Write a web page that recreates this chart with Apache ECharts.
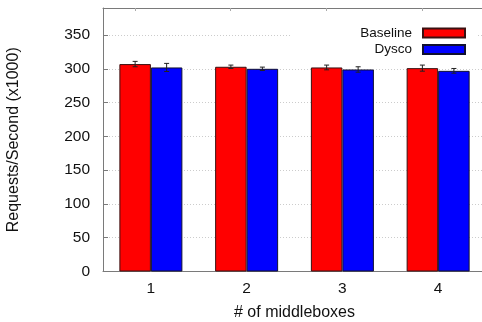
<!DOCTYPE html>
<html>
<head>
<meta charset="utf-8">
<script src="https://cdn.jsdelivr.net/npm/echarts@6/dist/echarts.min.js"></script>
<style>
  html, body { margin: 0; padding: 0; background: #fff; }
  #chart { width: 482px; height: 322px; }
</style>
</head>
<body>
<div id="chart"></div>
<script>
  // values (x1000 requests/second)
  var categories = ['1', '2', '3', '4'];
  var baseline = [307, 303, 302, 301];
  var dysco = [302, 300, 299, 297];
  var baselineErr = [4, 2.5, 3.5, 4.5];
  var dyscoErr = [6, 2.5, 4, 3.5];
  var topTicks = [1 / 3, 4 / 3, 7 / 3, 10 / 3];

  var barW = 31.5;
  var axisGray = '#7a7a7a';

  function errData(vals, errs) {
    return vals.map(function (v, i) { return [i, v - errs[i], v + errs[i]]; });
  }

  function errSeries(name, vals, errs, offset) {
    return {
      type: 'custom',
      name: name + '-err',
      z: 5,
      silent: true,
      data: errData(vals, errs),
      renderItem: function (params, api) {
        var lo = api.coord([api.value(0), api.value(1)]);
        var hi = api.coord([api.value(0), api.value(2)]);
        var x = lo[0] + offset;
        var c = 2.5;
        var st = { stroke: '#222', lineWidth: 1 };
        return {
          type: 'group',
          children: [
            { type: 'line', shape: { x1: x, y1: lo[1], x2: x, y2: hi[1] }, style: st },
            { type: 'line', shape: { x1: x - c, y1: lo[1], x2: x + c, y2: lo[1] }, style: st },
            { type: 'line', shape: { x1: x - c, y1: hi[1], x2: x + c, y2: hi[1] }, style: st }
          ]
        };
      }
    };
  }

  var myChart = echarts.init(document.getElementById('chart'));
  var option = {
    animation: false,
    textStyle: { fontFamily: 'Liberation Sans, Arial, sans-serif' },
    grid: { left: 103, top: 8, width: 383, bottom: 50.5, outerBoundsMode: 'none' },
    legend: {
      data: ['Baseline', 'Dysco'],
      orient: 'vertical',
      right: 6,
      top: 16,
      padding: [10, 10, 3, 70],
      backgroundColor: '#fff',
      align: 'right',
      icon: 'rect',
      itemWidth: 42,
      itemHeight: 9,
      itemGap: 2.5,
      textStyle: { fontSize: 13.5, color: '#111', padding: [0, 6, 0, 0] }
    },
    xAxis: [{
      type: 'category',
      data: categories,
      name: '# of middleboxes',
      nameLocation: 'middle',
      nameGap: 33,
      nameTextStyle: { fontSize: 16, color: '#111' },
      axisLine: { lineStyle: { color: axisGray } },
      axisTick: { show: false },
      axisLabel: { fontSize: 15.5, color: '#111', margin: 9 }
    }, {
      type: 'value',
      position: 'top',
      min: 0,
      max: 4,
      axisLine: { show: true, lineStyle: { color: axisGray } },
      axisTick: { show: true, inside: true, length: 3, customValues: topTicks, lineStyle: { color: '#aaa' } },
      axisLabel: { show: false },
      splitLine: { show: false }
    }],
    yAxis: {
      type: 'value',
      min: 0,
      max: 390,
      interval: 50,
      name: 'Requests/Second (x1000)',
      nameLocation: 'middle',
      nameGap: 81,
      nameTextStyle: { fontSize: 16, color: '#111' },
      axisLine: { show: true, lineStyle: { color: axisGray } },
      axisTick: { show: true, inside: true, length: 5, lineStyle: { color: axisGray } },
      axisLabel: { fontSize: 15.5, color: '#111', margin: 13, showMaxLabel: false },
      splitLine: { show: true, lineStyle: { color: '#cccccc', type: [1, 2] } }
    },
    series: [{
      name: 'Baseline',
      type: 'bar',
      data: baseline,
      barWidth: barW,
      barGap: 0,
      itemStyle: { color: '#ff0000', borderColor: '#3a1010', borderWidth: 1 }
    }, {
      name: 'Dysco',
      type: 'bar',
      data: dysco,
      barWidth: barW,
      barGap: 0,
      itemStyle: { color: '#0000ff', borderColor: '#101030', borderWidth: 1 }
    },
    errSeries('Baseline', baseline, baselineErr, -barW / 2),
    errSeries('Dysco', dysco, dyscoErr, barW / 2)]
  };
  myChart.setOption(option);
</script>
</body>
</html>
